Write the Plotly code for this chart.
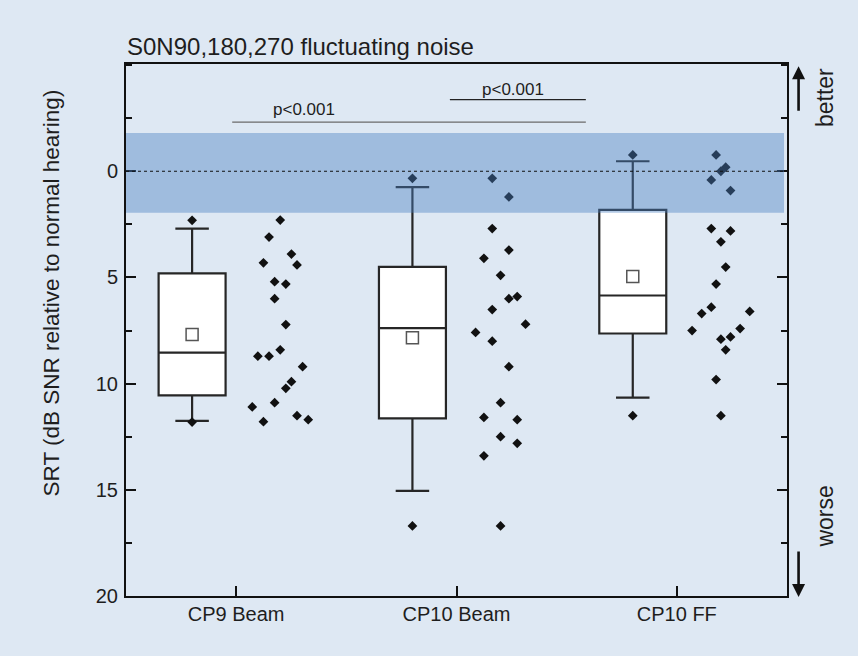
import plotly.graph_objects as go

# ---------------- data ----------------
categories = ["CP9 Beam", "CP10 Beam", "CP10 FF"]

# box statistics (dB SNR relative to normal hearing)
q1 = [4.81, 4.50, 1.82]
median = [8.54, 7.39, 5.85]
q3 = [10.55, 11.64, 7.64]
whisk_low = [2.70, 0.75, -0.47]      # upper (better) whisker end
whisk_high = [11.75, 15.05, 10.66]   # lower (worse) whisker end
means = [7.69, 7.84, 4.95]
mins = [2.31, 0.33, -0.77]
maxs = [11.81, 16.70, 11.51]

# individual SRT values per condition
cp9_beam = [2.30, 3.10, 3.90, 4.31, 4.41, 5.20, 5.31, 6.00, 7.22, 8.41,
            8.71, 8.71, 9.20, 9.91, 10.22, 10.90, 11.10, 11.51, 11.79, 11.70]
cp10_beam = [0.33, 1.21, 2.70, 3.71, 4.10, 4.90, 5.90, 6.00, 6.51, 7.20,
             7.59, 8.00, 9.20, 10.90, 11.59, 11.70, 12.50, 12.81, 13.40, 16.70]
cp10_ff = [-0.77, -0.19, 0.00, 0.41, 0.91, 2.70, 2.81, 3.32, 4.51, 5.31,
           6.40, 6.70, 6.60, 7.50, 7.41, 7.91, 7.80, 8.41, 9.81, 11.51]
# jitter steps of the individual points (as seen in the figure)
cp9_jitter = [0, -2, 2, -3, 3, -1, 1, -1, 1, 0, -4, -2, 4, 2, 1, -1, -5, 3, -3, 5]
cp10_beam_jitter = [-1, 1, -1, 1, -2, 0, 2, 1, -1, 3, -3, -1, 1, 0, -2, 2, 0, 2, -2, 0]
cp10_ff_jitter = [-1, 1, 0, -2, 2, -2, 2, 0, 1, -1, -2, -4, 6, -6, 4, 0, 2, 1, -1, 0]

points = [cp9_beam, cp10_beam, cp10_ff]
jitters = [cp9_jitter, cp10_beam_jitter, cp10_ff_jitter]
jitter_step = [0.0254, 0.0378, 0.0218]

normal_range = [-1.8, 1.95]
sig_label = "p<0.001"

# ---------------- styling ----------------
BG = "#dee8f3"
INK = "#1e1e1e"
FONT = "Liberation Sans, Arial, Helvetica, sans-serif"
BOX_OFF = -0.2
PTS_OFF = 0.2

fig = go.Figure()

for i, cat in enumerate(categories):
    pos = i + BOX_OFF
    fig.add_trace(go.Box(
        x=[pos], q1=[q1[i]], median=[median[i]], q3=[q3[i]],
        lowerfence=[whisk_low[i]], upperfence=[whisk_high[i]],
        width=0.304, whiskerwidth=0.5, fillcolor="white",
        line=dict(color="#262626", width=2.2), boxpoints=False,
        showlegend=False, hoverinfo="skip"))
    # min / max markers
    fig.add_trace(go.Scatter(
        x=[pos, pos], y=[mins[i], maxs[i]], mode="markers",
        marker=dict(symbol="diamond", size=7.5, color="#111111"),
        showlegend=False, hoverinfo="skip"))
    # mean
    fig.add_trace(go.Scatter(
        x=[pos], y=[means[i]], mode="markers",
        marker=dict(symbol="square", size=12, color="white",
                    line=dict(color="#555555", width=1.5)),
        showlegend=False, hoverinfo="skip"))
    # individual points
    fig.add_trace(go.Scatter(
        x=[i + PTS_OFF + s * jitter_step[i] for s in jitters[i]],
        y=points[i], mode="markers",
        marker=dict(symbol="diamond", size=7.5, color="#111111"),
        showlegend=False, hoverinfo="skip"))

shapes = [
    # normal hearing band
    dict(type="rect", xref="paper", yref="y", x0=0, x1=0.9955,
         y0=normal_range[0], y1=normal_range[1],
         fillcolor="rgba(72,127,192,0.42)", line=dict(width=0), layer="above"),
    # zero reference line
    dict(type="line", xref="paper", yref="y", x0=0, x1=0.998, y0=0, y1=0,
         line=dict(color="#111111", width=1, dash="3px,3px"), layer="above"),
    # significance bars
    dict(type="line", xref="x", yref="y", x0=-0.018, x1=1.587, y0=-2.31, y1=-2.31,
         line=dict(color="#6a6a6a", width=1.3)),
    dict(type="line", xref="x", yref="y", x0=0.97, x1=1.587, y0=-3.37, y1=-3.37,
         line=dict(color="#222222", width=1.2)),
]

annotations = [
    dict(text="S0N90,180,270 fluctuating noise", xref="paper", yref="paper",
         x=-0.002, y=1.032, xanchor="left", yanchor="middle", showarrow=False,
         font=dict(size=24, color=INK, family=FONT)),
    dict(text="SRT (dB SNR relative to normal hearing)", xref="paper", yref="paper",
         x=-0.112, y=0.5705, textangle=-90, xanchor="center", yanchor="middle",
         showarrow=False, font=dict(size=22.5, color=INK, family=FONT)),
    dict(text=sig_label, xref="x", yref="y", x=0.308, y=-2.91, showarrow=False,
         xanchor="center", yanchor="middle", font=dict(size=17, color=INK, family=FONT)),
    dict(text=sig_label, xref="x", yref="y", x=1.255, y=-3.85, showarrow=False,
         xanchor="center", yanchor="middle", font=dict(size=17, color=INK, family=FONT)),
    dict(text="better", xref="paper", yref="paper", x=1.0575, y=0.936, textangle=-90,
         xanchor="center", yanchor="middle", showarrow=False,
         font=dict(size=23, color=INK, family=FONT)),
    dict(text="worse", xref="paper", yref="paper", x=1.0575, y=0.1494, textangle=-90,
         xanchor="center", yanchor="middle", showarrow=False,
         font=dict(size=23, color=INK, family=FONT)),
    # arrows
    dict(text="", xref="paper", yref="paper", x=1.0175, y=0.996, ax=0, ay=46,
         showarrow=True, arrowhead=2, arrowsize=1, arrowwidth=2.6, arrowcolor="#111111"),
    dict(text="", xref="paper", yref="paper", x=1.0175, y=-0.002, ax=0, ay=-47,
         showarrow=True, arrowhead=2, arrowsize=1, arrowwidth=2.6, arrowcolor="#111111"),
]

fig.update_layout(
    width=858, height=656,
    margin=dict(l=126, r=71, t=64, b=60),
    paper_bgcolor=BG, plot_bgcolor=BG,
    font=dict(family=FONT, color=INK, size=20),
    shapes=shapes, annotations=annotations,
    showlegend=False,
)
fig.update_xaxes(
    range=[-0.5, 2.5], tickvals=[0, 1, 2], ticktext=categories,
    ticks="inside", ticklen=10, tickwidth=2, tickcolor="#111111",
    showline=True, linecolor="#111111", linewidth=2, mirror=True,
    showgrid=False, zeroline=False, tickfont=dict(size=20),
    ticklabelstandoff=-1,
)
fig.update_yaxes(
    range=[20, -5.05], tickvals=[0, 5, 10, 15, 20],
    ticks="inside", ticklen=10, tickwidth=2, tickcolor="#111111",
    minor=dict(dtick=2.5, tick0=0, ticks="inside", ticklen=6, tickwidth=2,
               tickcolor="#111111"),
    showline=True, linecolor="#111111", linewidth=2, mirror="ticks",
    showgrid=False, zeroline=False, tickfont=dict(size=20),
    ticklabelstandoff=2,
)

fig.write_html("out.html")
